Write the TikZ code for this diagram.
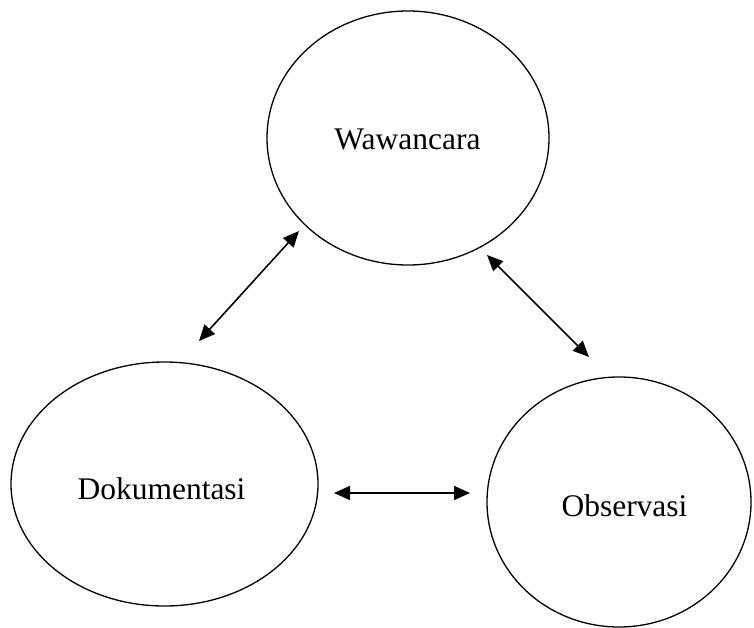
\documentclass[tikz,border=0pt]{standalone}
\usepackage{fontspec}
\setmainfont{Liberation Serif}
\usetikzlibrary{arrows.meta}
\begin{document}
\begin{tikzpicture}[x=1pt,y=-1pt,
  ring/.style={line width=1.3pt},
  lbl/.style={font=\fontsize{31.5}{36}\selectfont,inner sep=0pt,anchor=base},
  link/.style={line width=1.6pt,{Triangle[length=16pt,width=14pt]}-{Triangle[length=16pt,width=14pt]}}]
\useasboundingbox (0,0) rectangle (754,628);
\draw[ring] (408,138) ellipse [x radius=141, y radius=127];
\draw[ring] (164.5,484) ellipse [x radius=153.5, y radius=122];
\draw[ring] (619,502) ellipse [x radius=132, y radius=125];
\node[lbl] (w) at (407.5,150) {Wawancara};
\node[lbl] (d) at (161.5,499) {Dokumentasi};
\node[lbl] (o) at (624.5,516) {Observasi};
\coordinate (a1) at (299,231);
\coordinate (a2) at (199,341);
\coordinate (b1) at (487,255);
\coordinate (b2) at (589,357);
\coordinate (c1) at (334,493);
\coordinate (c2) at (470,493);
\draw[link] (a1) -- (a2);
\draw[link] (b1) -- (b2);
\draw[link] (c1) -- (c2);
\end{tikzpicture}
\end{document}
